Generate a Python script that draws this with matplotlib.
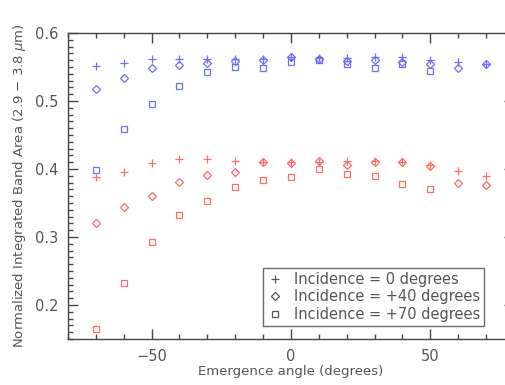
import numpy as np
import matplotlib
matplotlib.use("Agg")
import matplotlib.pyplot as plt
from matplotlib.ticker import MultipleLocator
from matplotlib.lines import Line2D

# emergence angles
angles = [-70, -60, -50, -40, -30, -20, -10, 0, 10, 20, 30, 40, 50, 60, 70]
angles_sq = [-70, -60, -50, -40, -30, -20, -10, 0, 10, 20, 30, 40, 50]

# blue series (upper group)
blue_inc0 = [0.551, 0.556, 0.562, 0.562, 0.562, 0.562, 0.562, 0.565, 0.563, 0.563, 0.565, 0.565, 0.560, 0.558, 0.555]
blue_inc40 = [0.517, 0.534, 0.549, 0.553, 0.556, 0.559, 0.560, 0.564, 0.562, 0.559, 0.560, 0.558, 0.555, 0.549, 0.555]
blue_inc70 = [0.398, 0.459, 0.495, 0.522, 0.542, 0.550, 0.548, 0.557, 0.561, 0.555, 0.549, 0.555, 0.544]

# red series (lower group)
red_inc0 = [0.388, 0.395, 0.409, 0.414, 0.414, 0.412, 0.411, 0.410, 0.411, 0.412, 0.412, 0.410, 0.406, 0.397, 0.390]
red_inc40 = [0.321, 0.344, 0.361, 0.381, 0.391, 0.395, 0.410, 0.409, 0.412, 0.406, 0.411, 0.410, 0.405, 0.379, 0.377]
red_inc70 = [0.164, 0.233, 0.292, 0.333, 0.353, 0.373, 0.384, 0.388, 0.400, 0.393, 0.389, 0.378, 0.370]

blue = '#6f6cff'
red = '#ff6a6a'
grey = '#555555'

plus_kw = dict(ls='none', marker='+', ms=5.5, mew=0.9)
dia_kw = dict(ls='none', marker='D', ms=3.8, mew=0.9, mfc='none')
sq_kw = dict(ls='none', marker='s', ms=5, mew=0.9, mfc='none')

plt.rcParams['font.family'] = 'DejaVu Sans'
fig = plt.figure(figsize=(5.06, 3.85), dpi=100)
ax = fig.add_axes([68 / 506, 1 - 339 / 385, 446 / 506, 306 / 385])

for c, s0, s40, s70 in [(blue, blue_inc0, blue_inc40, blue_inc70), (red, red_inc0, red_inc40, red_inc70)]:
    ax.plot(angles, s0, color=c, **plus_kw)
    ax.plot(angles, s40, color=c, **dia_kw)
    ax.plot(angles_sq, s70, color=c, **sq_kw)

ax.set_xlim(-80, 80)
ax.set_ylim(0.15, 0.6)
ax.xaxis.set_major_locator(MultipleLocator(50))
ax.xaxis.set_minor_locator(MultipleLocator(10))
ax.yaxis.set_major_locator(MultipleLocator(0.1))
ax.yaxis.set_minor_locator(MultipleLocator(0.01))
ax.tick_params(which='both', direction='in', top=True, right=True, colors='#444444',
               labelcolor=grey, labelsize=10.5, width=1.0)
ax.tick_params(which='major', length=7, pad=7)
ax.tick_params(which='minor', length=3.5)
for sp in ax.spines.values():
    sp.set_color('#444444')
    sp.set_linewidth(1.0)

ax.set_xlabel('Emergence angle (degrees)', color=grey, fontsize=9.5, labelpad=1)
ax.set_ylabel(r'Normalized Integrated Band Area (2.9 $-$ 3.8 $\mu$m)', color=grey, fontsize=9.5, labelpad=5)

handles = [
    Line2D([], [], color=grey, **plus_kw),
    Line2D([], [], color=grey, **dia_kw),
    Line2D([], [], color=grey, **sq_kw),
]
labels = ['Incidence = 0 degrees', 'Incidence = +40 degrees', 'Incidence = +70 degrees']
leg = ax.legend(handles, labels, loc='lower left', bbox_to_anchor=((263 - 68) / 446, (339 - 326) / 306),
                fontsize=10.5, frameon=True, fancybox=False, handlelength=1.0, handletextpad=0.8,
                labelspacing=0.15, borderpad=0.3, borderaxespad=0)
leg.get_frame().set_edgecolor('#444444')
leg.get_frame().set_linewidth(1.0)
for t in leg.get_texts():
    t.set_color(grey)

fig.savefig('out.png', dpi=100)
